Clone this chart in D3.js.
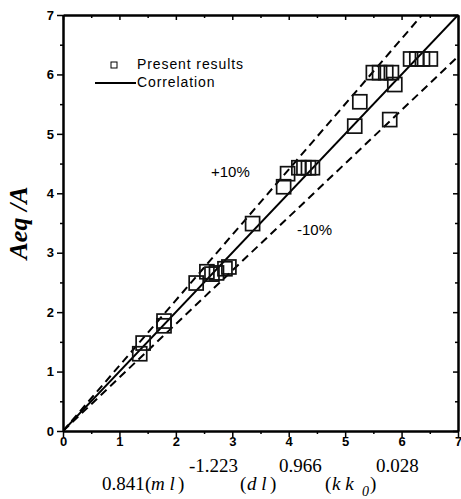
<!DOCTYPE html>
<html>
<head>
<meta charset="utf-8">
<script src="https://cdn.jsdelivr.net/npm/d3@7"></script>
<style>
  html, body { margin: 0; padding: 0; background: #fff; }
  svg { display: block; }
</style>
</head>
<body>
<svg id="chart" width="461" height="499"></svg>
<script>
// Measured points: x = 0.841(m/l)^-1.223 (d/l)^0.966 (k/k0)^0.028, y = Aeq/A
const presentX = [1.36, 1.42, 1.79, 1.79, 2.36, 2.55, 2.64, 2.72, 2.87, 2.94, 3.36,
                  3.91, 3.98, 4.18, 4.27, 4.35, 4.42, 5.17, 5.26, 5.79,
                  5.50, 5.61, 5.72, 5.82, 5.88, 6.16, 6.27, 6.37, 6.51];
const presentY = [1.30, 1.48, 1.85, 1.77, 2.49, 2.68, 2.64, 2.66, 2.73, 2.76, 3.49,
                  4.11, 4.33, 4.43, 4.43, 4.43, 4.43, 5.13, 5.54, 5.24,
                  6.03, 6.03, 6.03, 6.03, 5.83, 6.26, 6.26, 6.26, 6.26];

// Correlation (y = x) and the +/-10% bands
const bandFactors = [1.1, 0.9];
const bandLabels = ["+10%", "-10%"];
const tickValues = [0, 1, 2, 3, 4, 5, 6, 7];
const minorTickValues = [0.5, 1.5, 2.5, 3.5, 4.5, 5.5, 6.5];
const axisMax = 7;

const svg = d3.select("#chart");
const x = d3.scaleLinear().domain([0, axisMax]).range([63, 458]);
const y = d3.scaleLinear().domain([0, axisMax]).range([431, 15]);

const plot = svg.append("g");

// clip so the band lines stop at the frame
svg.append("defs").append("clipPath").attr("id", "frame")
  .append("rect").attr("x", x(0)).attr("y", y(axisMax))
  .attr("width", x(axisMax) - x(0)).attr("height", y(0) - y(axisMax));

const lines = plot.append("g").attr("clip-path", "url(#frame)");
const line = d3.line().x(d => x(d[0])).y(d => y(d[1]));

// solid correlation line
lines.append("path")
  .attr("d", line([[0, 0], [axisMax, axisMax]]))
  .attr("fill", "none").attr("stroke", "#000").attr("stroke-width", 1.9);

// dashed +/-10% lines
bandFactors.forEach(f => {
  lines.append("path")
    .attr("d", line([[0, 0], [axisMax, axisMax * f]]))
    .attr("fill", "none").attr("stroke", "#000").attr("stroke-width", 2)
    .attr("stroke-dasharray", "8,5");
});

// open squares
const size = 14;
plot.append("g").selectAll("rect")
  .data(presentX.map((v, i) => [v, presentY[i]]))
  .join("rect")
  .attr("x", d => x(d[0]) - size / 2)
  .attr("y", d => y(d[1]) - size / 2)
  .attr("width", size).attr("height", size)
  .attr("fill", "none").attr("stroke", "#111").attr("stroke-width", 1.7);

// band labels
const labelFont = "'Liberation Sans', Arial, sans-serif";
plot.append("text").attr("x", 211).attr("y", 177)
  .attr("font-family", labelFont).attr("font-size", 15)
  .text(bandLabels[0]);
plot.append("text").attr("x", 297).attr("y", 235)
  .attr("font-family", labelFont).attr("font-size", 15)
  .text(bandLabels[1]);

// axes: major ticks with labels, minor ticks without
const tickFont = "'Liberation Sans', Arial, sans-serif";
function styleAxis(g) {
  g.select(".domain").attr("stroke", "#000").attr("stroke-width", 2);
  g.selectAll(".tick line").attr("stroke", "#000").attr("stroke-width", 1.5);
  g.selectAll("text").attr("font-family", tickFont).attr("font-weight", "bold")
    .attr("font-size", 13).attr("fill", "#000");
}

svg.append("g").attr("transform", `translate(0,${y(0)})`)
  .call(d3.axisBottom(x).tickValues(tickValues).tickFormat(d3.format("d"))
    .tickSize(6).tickPadding(0).tickSizeOuter(0))
  .call(styleAxis);
svg.append("g").attr("transform", `translate(0,${y(0)})`)
  .call(d3.axisBottom(x).tickValues(minorTickValues).tickSize(3).tickFormat("").tickSizeOuter(0))
  .call(styleAxis);

svg.append("g").attr("transform", `translate(${x(0)},0)`)
  .call(d3.axisLeft(y).tickValues(tickValues).tickFormat(d3.format("d"))
    .tickSize(6).tickPadding(3).tickSizeOuter(0))
  .call(styleAxis);
svg.append("g").attr("transform", `translate(${x(0)},0)`)
  .call(d3.axisLeft(y).tickValues(minorTickValues).tickSize(3).tickFormat("").tickSizeOuter(0))
  .call(styleAxis);

// top and right frame with inward ticks
svg.append("g").attr("transform", `translate(0,${y(axisMax)})`)
  .call(d3.axisTop(x).tickValues(tickValues).tickSize(-5).tickFormat("").tickSizeOuter(0))
  .call(styleAxis);
svg.append("g").attr("transform", `translate(0,${y(axisMax)})`)
  .call(d3.axisTop(x).tickValues(minorTickValues).tickSize(-3).tickFormat("").tickSizeOuter(0))
  .call(styleAxis);
svg.append("g").attr("transform", `translate(${x(axisMax)},0)`)
  .call(d3.axisRight(y).tickValues(tickValues).tickSize(-5).tickFormat("").tickSizeOuter(0))
  .call(styleAxis);
svg.append("g").attr("transform", `translate(${x(axisMax)},0)`)
  .call(d3.axisRight(y).tickValues(minorTickValues).tickSize(-3).tickFormat("").tickSizeOuter(0))
  .call(styleAxis);

// legend
const legend = svg.append("g");
legend.append("rect").attr("x", 111).attr("y", 62).attr("width", 6).attr("height", 6)
  .attr("fill", "none").attr("stroke", "#000").attr("stroke-width", 1);
legend.append("text").attr("x", 137).attr("y", 69)
  .attr("font-family", labelFont).attr("font-size", 14).attr("letter-spacing", 0.9)
  .text("Present results");
legend.append("line").attr("x1", 95).attr("x2", 136).attr("y1", 83).attr("y2", 83)
  .attr("stroke", "#000").attr("stroke-width", 2);
legend.append("text").attr("x", 137).attr("y", 87)
  .attr("font-family", labelFont).attr("font-size", 14).attr("letter-spacing", 0.9)
  .text("Correlation");

// y-axis title
const serif = "'Liberation Serif', 'Times New Roman', serif";
svg.append("text")
  .attr("transform", "translate(27,223) rotate(-90)")
  .attr("text-anchor", "middle")
  .attr("font-family", serif).attr("font-size", 26)
  .attr("font-weight", "bold").attr("font-style", "italic")
  .text("Aeq /A");

// x-axis title: 0.841 (m/l)^-1.223 (d/l)^0.966 (k/k0)^0.028
const xt = svg.append("text").attr("font-family", serif).attr("font-size", 19).attr("fill", "#000");
const base = 490, sup = 472;
const pieces = [
  { t: "0.841", x: 102, y: base },
  { t: "(", x: 145, y: base },
  { t: "m l", x: 151, y: base, it: true },
  { t: ")", x: 178, y: base },
  { t: "-1.223", x: 189, y: sup },
  { t: "(", x: 240, y: base },
  { t: "d l", x: 247, y: base, it: true },
  { t: ")", x: 270, y: base },
  { t: "0.966", x: 279, y: sup },
  { t: "(", x: 325, y: base },
  { t: "k k", x: 332, y: base, it: true },
  { t: "0", x: 362, y: base + 6, it: true, small: true },
  { t: ")", x: 370, y: base },
  { t: "0.028", x: 376, y: sup }
];
pieces.forEach(p => {
  xt.append("tspan").attr("x", p.x).attr("y", p.y)
    .attr("font-style", p.it ? "italic" : "normal")
    .attr("font-size", p.small ? 14 : 19)
    .text(p.t);
});
</script>
</body>
</html>
